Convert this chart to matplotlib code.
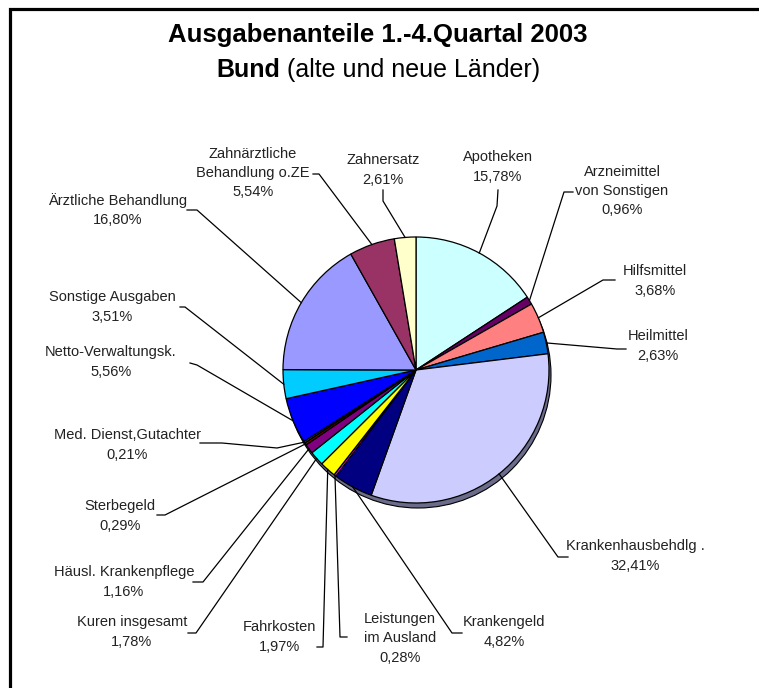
import matplotlib
matplotlib.use('Agg')
import matplotlib.pyplot as plt
import numpy as np
from matplotlib.patches import Circle

# shares in percent, clockwise from 12 o'clock
names = ['Apotheken', 'Arzneimittel\nvon Sonstigen', 'Hilfsmittel', 'Heilmittel',
         'Krankenhausbehdlg .', 'Krankengeld', 'Leistungen\nim Ausland', 'Fahrkosten',
         'Kuren insgesamt', 'Häusl. Krankenpflege', 'Sterbegeld', 'Med. Dienst,Gutachter',
         'Netto-Verwaltungsk.', 'Sonstige Ausgaben', 'Ärztliche Behandlung',
         'Zahnärztliche\nBehandlung o.ZE', 'Zahnersatz']
values = [15.78, 0.96, 3.68, 2.63, 32.41, 4.82, 0.28, 1.97, 1.78, 1.16, 0.29, 0.21,
          5.56, 3.51, 16.80, 5.54, 2.61]
colors = ['#CCFFFF', '#660066', '#FF8080', '#0066CC', '#CCCCFF', '#000080', '#FF00FF',
          '#FFFF00', '#00FFFF', '#800080', '#800000', '#008080', '#0000FF', '#00CCFF',
          '#9999FF', '#993366', '#FFFFCC']

# label centre (px) and leader knots from the label side towards the pie (px)
label_pos = [(498, 167), (622, 191), (655, 281), (658, 346), (635, 556), (504, 632),
             (400, 638), (279, 637), (132, 632), (124, 582), (120, 516), (127, 445),
             (111, 362), (112, 307), (118, 210), (253, 173), (383, 170)]
leaders = [
    [(498, 190), (497, 206)],
    [(573, 192), (564, 192)],
    [(615, 280), (603, 280)],
    [(626, 349), (617, 349)],
    [(568, 557), (558, 557)],
    [(462, 633), (452, 633)],
    [(347, 637), (340, 637)],
    [(317, 647), (323, 647)],
    [(188, 633), (196, 633)],
    [(193, 582), (203, 582)],
    [(157, 515), (165, 515)],
    [(200, 443), (222, 443), (277, 448)],
    [(190, 363), (197, 365)],
    [(180, 307), (185, 307)],
    [(187, 210), (197, 210)],
    [(313, 174), (319, 174)],
    [(383, 190), (383, 201)],
]

W, H = 759, 688
fig = plt.figure(figsize=(W / 100, H / 100), dpi=100)
ax = fig.add_axes([0, 0, 1, 1])

cx, cy, r = 416, 370, 133
lab_font = ['Liberation Sans Narrow', 'Liberation Sans', 'DejaVu Sans']
title_font = ['Liberation Sans', 'DejaVu Sans']

# shadow under the pie
ax.add_patch(Circle((cx + 2, H - cy - 5), r, facecolor='#6b6b8a', edgecolor='black',
                    lw=0.8, zorder=1))
wedges, _ = ax.pie(values, colors=colors, startangle=90, counterclock=False,
                   center=(cx, H - cy), radius=r, frame=True,
                   wedgeprops=dict(edgecolor='black', linewidth=0.9, zorder=2))

for i, w in enumerate(wedges):
    a = np.deg2rad((w.theta1 + w.theta2) / 2)
    pts = leaders[i] + [(cx + r * np.cos(a), cy - r * np.sin(a))]
    ax.plot([p[0] for p in pts], [H - p[1] for p in pts], color='black', lw=0.9, zorder=3)
    txt = names[i] + '\n' + ('%.2f%%' % values[i]).replace('.', ',')
    lx, ly = label_pos[i]
    ax.text(lx, H - ly, txt, ha='center', va='center', fontsize=10.5, family=lab_font,
            color='#222222', linespacing=1.5)

# title
ax.text(378, H - 35, 'Ausgabenanteile 1.-4.Quartal 2003', ha='center', va='center',
        fontsize=18.5, weight='bold', family=title_font)
t1 = ax.text(0, H - 70, 'Bund', ha='left', va='center', fontsize=18, weight='bold',
             family=title_font)
t2 = ax.text(0, H - 70, ' (alte und neue Länder)', ha='left', va='center', fontsize=18,
             family=title_font)
fig.canvas.draw()
rend = fig.canvas.get_renderer()
w1 = t1.get_window_extent(rend).width
w2 = t2.get_window_extent(rend).width
x0 = 378 - (w1 + w2) / 2
t1.set_x(x0)
t2.set_x(x0 + w1)

# frame
ax.plot([10, 10, W], [0, H - 9, H - 9], color='black', lw=2.3, solid_joinstyle='miter',
        zorder=5)

ax.set_xlim(0, W)
ax.set_ylim(0, H)
ax.axis('off')
fig.savefig('out.png', dpi=100)
